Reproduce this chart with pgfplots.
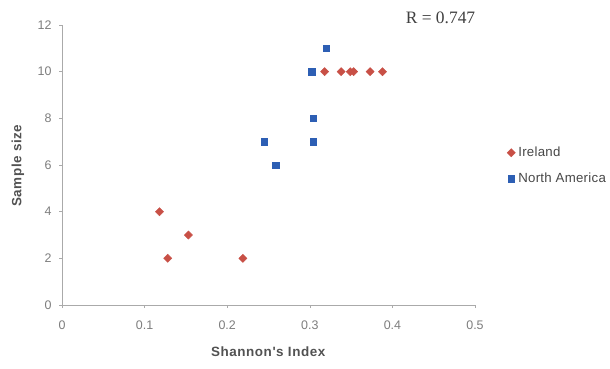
\documentclass[border=0pt]{standalone}
\usepackage{fontspec}
\setmainfont{Liberation Sans}
\newfontfamily\seriffont{Liberation Serif}
\newfontfamily\lblfont[LetterSpace=4]{Liberation Sans}
\newfontfamily\legfont[LetterSpace=2]{Liberation Sans}
\usepackage{pgfplots}
\pgfplotsset{compat=1.18}
\definecolor{irl}{RGB}{200,80,70}
\definecolor{nam}{RGB}{45,95,180}
\definecolor{axgray}{RGB}{170,170,170}
\definecolor{lblgray}{RGB}{125,125,125}
\begin{document}
\begin{tikzpicture}[x=1bp,y=1bp]
\path[use as bounding box] (0,0) rectangle (610,368);
\begin{axis}[
  at={(62bp,63bp)}, anchor=south west,
  scale only axis, width=413bp, height=280bp,
  xmin=0, xmax=0.5, ymin=0, ymax=12,
  xtick={0,0.1,0.2,0.3,0.4,0.5},
  xticklabels={0,0.1,0.2,0.3,0.4,0.5},
  ytick={0,2,4,6,8,10,12},
  axis x line*=bottom, axis y line*=left,
  axis line style={axgray, line width=0.6pt, -},
  tick align=outside, major tick length=3bp,
  tick style={axgray, line width=0.5pt},
  tick label style={font=\fontsize{12.5}{14}\selectfont, text=lblgray},
  xticklabel style={yshift=-9bp},
  yticklabel style={xshift=-4bp},
  /pgf/number format/assume math mode=true,
  xlabel={\textbf{Shannon's Index}},
  ylabel={\textbf{Sample size}},
  label style={font=\lblfont\fontsize{13.5}{15}\selectfont, text=black!68},
  xlabel style={at={(axis description cs:0.5,-0.1675)}, anchor=center},
  ylabel style={at={(axis description cs:-0.107,0.498)}, anchor=center},
  legend style={draw=none, fill=none, at={(1.07,0.497)}, anchor=west,
    font=\legfont\fontsize{13.3}{15}\selectfont, text=black!72, row sep=11bp,
    nodes={inner xsep=3bp}},
  legend cell align=left,
]
\addplot[only marks, mark=square*, mark size=2.9bp, mark options={rotate=45}, color=irl] coordinates {
 (0.118,4) (0.128,2) (0.153,3) (0.219,2)
 (0.318,10) (0.338,10) (0.349,10) (0.353,10) (0.373,10) (0.388,10)
};
\addlegendentry{Ireland}
\addplot[only marks, mark=square*, mark size=3.3bp, color=nam] coordinates {
 (0.245,7) (0.259,6) (0.302,10) (0.304,8) (0.304,7) (0.320,11)
};
\addlegendentry{North America}
\end{axis}
\node[anchor=center, font=\seriffont\fontsize{17.5}{19}\selectfont, text=black!75] at (440.5,350) {R = 0.747};
\end{tikzpicture}
\end{document}
